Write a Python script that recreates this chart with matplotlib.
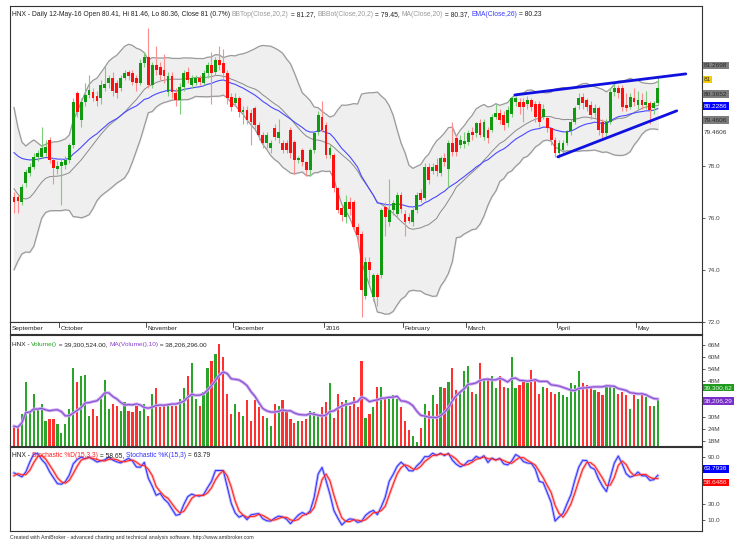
import matplotlib
matplotlib.use('Agg')
import matplotlib.pyplot as plt
import numpy as np
import pandas as pd
from matplotlib import font_manager

names = {f.name for f in font_manager.fontManager.ttflist}
FONT = 'Liberation Sans Narrow' if 'Liberation Sans Narrow' in names else 'Liberation Sans'
plt.rcParams['font.family'] = [FONT, 'DejaVu Sans']

# ---------------- data ----------------
opens = [76.82, 76.80, 76.63, 77.33, 77.72, 77.97, 78.36, 78.36, 78.50, 79.00,
         78.23, 77.90, 78.00, 78.05, 78.23, 78.81, 80.80, 79.77, 80.47, 80.73,
         80.85, 80.70, 80.60, 81.00, 81.18, 81.37, 81.18, 80.99, 81.37, 81.60,
         81.56, 81.37, 81.20, 81.95, 82.20, 81.10, 81.88, 81.80, 81.69, 80.86,
         81.44, 80.80, 80.54, 81.05, 81.63, 81.12, 81.20, 81.40, 81.20, 81.56,
         81.88, 81.60, 82.08, 81.95, 81.56, 80.67, 80.41, 80.60, 80.09, 80.15,
         80.03, 80.22, 79.58, 79.19, 78.87, 78.68, 79.45, 79.06, 78.87, 78.87,
         79.38, 78.94, 78.23, 78.62, 78.17, 77.85, 78.62, 79.30, 79.90, 79.58,
         78.42, 78.42, 77.14, 76.37, 76.05, 76.63, 76.63, 75.67, 75.40, 73.00,
         74.32, 72.97, 73.80, 73.80, 76.43, 75.86, 76.30, 76.17, 76.90, 76.17,
         76.05, 75.86, 76.30, 76.96, 76.76, 77.97, 77.80, 78.04, 77.72, 78.30,
         77.90, 78.87, 79.07, 78.80, 78.85, 78.94, 79.32, 79.26, 79.64, 79.10,
         79.39, 79.39, 79.90, 80.03, 79.96, 79.64, 80.00, 80.47, 80.47, 80.47,
         80.40, 80.53, 80.40, 80.40, 79.90, 79.83, 79.45, 79.00, 78.49, 78.62,
         78.88, 79.33, 79.70, 80.34, 80.67, 80.53, 80.35, 80.03, 80.22, 79.70,
         79.27, 79.70, 80.86, 80.99, 80.99, 80.35, 80.28, 80.60, 80.35, 80.53,
         80.35, 80.41, 80.22, 80.41]
highs = [77.00, 76.90, 77.30, 77.90, 78.10, 78.50, 78.60, 79.50, 79.00, 79.10,
         78.30, 78.20, 78.30, 78.40, 78.90, 80.60, 80.90, 80.60, 81.20, 81.50,
         81.00, 80.90, 81.30, 81.90, 81.50, 81.60, 81.30, 81.50, 81.70, 81.70,
         81.70, 81.50, 82.10, 82.40, 83.30, 82.00, 82.60, 82.00, 82.30, 81.60,
         81.60, 81.00, 81.20, 81.70, 81.80, 81.50, 81.50, 81.50, 81.70, 82.00,
         82.40, 82.20, 82.60, 82.50, 81.70, 80.80, 80.80, 80.70, 80.30, 80.30,
         80.20, 80.30, 79.70, 79.30, 79.30, 79.00, 79.60, 79.80, 79.00, 79.00,
         79.50, 79.00, 78.40, 78.70, 78.20, 78.70, 79.30, 80.10, 80.50, 79.70,
         78.80, 78.50, 77.20, 76.50, 76.90, 76.80, 76.70, 75.80, 75.50, 74.50,
         74.50, 73.90, 73.90, 76.40, 76.60, 77.50, 76.70, 77.00, 77.00, 76.30,
         76.20, 76.40, 77.00, 77.10, 78.10, 78.10, 78.10, 78.30, 78.40, 78.50,
         79.00, 79.70, 79.20, 79.20, 79.30, 79.40, 79.50, 79.70, 79.80, 79.80,
         79.50, 80.00, 80.40, 80.20, 80.10, 80.30, 80.70, 80.70, 80.60, 80.60,
         80.70, 80.60, 80.50, 80.50, 80.40, 79.90, 79.50, 79.10, 79.00, 79.00,
         79.40, 79.80, 80.30, 80.80, 80.80, 80.60, 80.50, 80.40, 80.30, 79.80,
         79.80, 81.00, 81.20, 81.10, 81.10, 80.80, 80.80, 81.00, 80.90, 80.80,
         80.90, 80.50, 80.50, 81.46]
lows = [76.20, 76.20, 76.50, 77.20, 77.60, 77.90, 78.20, 78.30, 78.40, 78.10,
        77.30, 77.70, 76.50, 77.90, 78.10, 78.70, 79.90, 79.50, 80.30, 80.60,
        80.50, 80.30, 80.40, 80.90, 81.00, 80.70, 80.60, 80.90, 81.30, 81.30,
        81.10, 80.90, 81.10, 81.80, 81.00, 81.00, 81.50, 81.30, 81.20, 80.70,
        80.60, 80.30, 80.00, 80.90, 81.20, 81.00, 81.10, 81.10, 81.10, 81.40,
        80.40, 81.50, 81.70, 81.40, 80.40, 80.10, 80.30, 79.90, 79.60, 79.60,
        78.80, 79.40, 79.00, 78.70, 78.70, 78.50, 79.00, 78.90, 78.50, 78.50,
        78.30, 77.70, 78.10, 78.00, 77.60, 77.60, 78.50, 79.20, 79.30, 78.30,
        78.30, 77.00, 76.20, 75.90, 75.80, 76.10, 75.50, 75.00, 72.20, 72.90,
        73.50, 72.80, 72.60, 73.70, 75.30, 75.70, 76.10, 76.00, 76.20, 75.30,
        75.80, 75.70, 76.20, 76.60, 76.70, 77.30, 77.70, 77.60, 77.60, 78.00,
        77.20, 78.40, 78.40, 78.70, 78.70, 78.80, 79.00, 79.10, 79.10, 79.00,
        78.90, 79.30, 79.80, 79.60, 79.40, 79.50, 79.90, 80.30, 80.00, 79.70,
        80.20, 80.10, 79.70, 79.50, 79.80, 79.30, 78.80, 78.35, 78.30, 78.50,
        78.80, 79.20, 79.60, 80.20, 80.20, 80.10, 79.80, 79.90, 79.20, 79.00,
        79.10, 79.60, 80.70, 80.60, 80.10, 80.10, 80.20, 80.30, 80.20, 80.20,
        80.20, 79.60, 80.00, 80.36]
closes = [76.63, 76.65, 77.20, 77.78, 77.97, 78.36, 78.49, 78.68, 78.74, 78.23,
          77.91, 78.00, 78.17, 78.23, 78.81, 80.47, 80.09, 80.47, 80.73, 80.92,
          80.60, 80.50, 81.12, 81.15, 81.37, 80.90, 80.80, 81.37, 81.56, 81.45,
          81.24, 81.18, 81.95, 82.20, 81.10, 81.88, 81.69, 81.50, 81.44, 81.44,
          80.86, 80.54, 81.05, 81.56, 81.31, 81.37, 81.37, 81.24, 81.56, 81.88,
          81.56, 82.08, 81.88, 81.56, 80.60, 80.28, 80.60, 80.09, 80.15, 79.77,
          79.70, 79.58, 79.19, 78.87, 79.19, 78.87, 79.13, 79.32, 78.62, 78.62,
          78.49, 78.23, 78.30, 78.17, 77.85, 78.62, 79.26, 79.96, 79.40, 78.42,
          78.68, 77.14, 76.31, 76.12, 76.63, 76.35, 75.67, 75.35, 73.23, 74.32,
          74.00, 73.80, 72.97, 76.30, 76.05, 76.30, 76.56, 76.90, 76.36, 75.86,
          75.90, 76.30, 76.90, 76.70, 77.97, 77.46, 77.97, 77.80, 78.30, 78.17,
          78.87, 78.55, 78.55, 79.00, 78.95, 79.26, 79.20, 79.64, 79.20, 79.70,
          79.07, 79.90, 80.03, 79.77, 79.58, 80.15, 80.60, 80.60, 80.27, 80.28,
          80.53, 80.28, 79.90, 79.70, 80.20, 79.45, 79.00, 78.49, 78.88, 78.88,
          79.33, 79.70, 80.22, 80.60, 80.41, 80.28, 79.96, 80.22, 79.38, 79.27,
          79.70, 80.86, 80.99, 80.80, 80.28, 80.22, 80.67, 80.47, 80.53, 80.35,
          80.47, 80.15, 80.41, 81.00]
volumes_m = [25.4, 24.5, 31.4, 47.7, 33.1, 41.7, 34.0, 36.6, 28.0, 28.8,
             28.8, 26.3, 22.0, 26.3, 34.0, 54.6, 47.7, 50.3, 51.2, 30.6,
             34.0, 30.6, 39.1, 48.6, 34.0, 36.6, 35.7, 33.1, 37.4, 33.1,
             32.3, 35.7, 33.1, 36.6, 30.6, 41.7, 44.3, 34.9, 36.6, 35.7,
             35.7, 35.7, 39.1, 44.3, 50.3, 57.2, 39.1, 35.7, 42.6, 54.6,
             58.0, 61.5, 66.6, 59.8, 41.7, 31.4, 36.6, 32.3, 30.6, 38.3,
             28.0, 38.3, 34.9, 30.6, 29.7, 25.4, 36.6, 35.7, 38.3, 33.1,
             28.8, 27.1, 28.0, 28.0, 28.8, 33.1, 32.3, 31.4, 34.9, 37.4,
             46.9, 29.7, 41.7, 37.4, 38.3, 35.7, 40.0, 34.9, 58.0, 29.7,
             31.4, 34.9, 45.2, 45.2, 40.0, 39.1, 40.9, 39.1, 34.9, 28.0,
             23.7, 20.3, 17.7, 24.5, 36.6, 33.1, 40.9, 36.6, 45.2, 44.3,
             47.7, 54.6, 43.4, 42.6, 52.9, 55.5, 42.6, 41.7, 57.2, 49.5,
             49.5, 50.3, 44.3, 50.3, 45.2, 44.3, 59.8, 44.3, 46.0, 47.7,
             46.9, 53.7, 48.6, 41.7, 45.2, 44.3, 42.6, 41.7, 42.6, 40.9,
             40.0, 46.9, 46.0, 52.9, 46.9, 46.0, 45.2, 43.4, 42.6, 40.9,
             45.2, 46.0, 44.3, 41.7, 42.6, 40.9, 34.0, 40.9, 39.1, 41.7,
             40.0, 35.7, 35.7, 39.3]
# closes before the first shown bar (seed the 20/26-bar indicators)
pre_closes = [84.5, 84.0, 83.6, 83.0, 82.4, 81.8, 81.0, 80.0, 78.6, 76.8,
              75.0, 74.2, 74.6, 75.8, 76.9, 77.6, 77.9, 77.7, 77.3, 77.6,
              77.2, 76.9, 77.1, 76.8, 76.9]
month_labels = ['September', 'October', 'November', 'December', '2016',
                'February', 'March', 'April', 'May']
month_starts = [0, 12, 34, 56, 79, 99, 115, 138, 158]
trend_upper_x = [126.8, 170.1]
trend_upper_y = [80.73, 81.54]
trend_lower_x = [137.7, 167.8]
trend_lower_y = [78.35, 80.12]
price_ticks = [72, 74, 76, 78]
volume_ticks = [18, 24, 30, 48, 54, 60, 66]
stoch_ticks = [10, 30, 90]

# ---------------- indicators ----------------
n = len(closes)
npre = len(pre_closes)
allc = pd.Series(pre_closes + closes)
allh = pd.Series(pre_closes + highs)
alll = pd.Series(pre_closes + lows)
ma20 = allc.rolling(20, min_periods=1).mean()
sd20 = allc.rolling(20, min_periods=1).std(ddof=0)
bbt = (ma20 + 2 * sd20).values[npre:]
bbb = (ma20 - 2 * sd20).values[npre:]
ma20v = ma20.values[npre:]
ema26 = allc.ewm(span=26, adjust=False).mean().values[npre:]
llv = alll.rolling(15, min_periods=1).min()
hhv = allh.rolling(15, min_periods=1).max()
num = (allc - llv).rolling(3, min_periods=1).sum()
den = (hhv - llv).rolling(3, min_periods=1).sum()
stk = (100 * num / den)
std_ = stk.rolling(3, min_periods=1).mean()
stk = stk.values[npre:]
std_ = std_.values[npre:]
vol = np.array(volumes_m)
vma = pd.Series(vol).rolling(10, min_periods=1).mean().values

x = np.arange(n)
o = np.array(opens); c = np.array(closes); h = np.array(highs); l = np.array(lows)
up = c >= o

# ---------------- layout ----------------
W, H = 746, 541
fig = plt.figure(figsize=(W / 100, H / 100), dpi=100)
fig.patch.set_facecolor('white')

def ax_px(left, top, right, bottom):
    return fig.add_axes([left / W, 1 - bottom / H, (right - left) / W, (bottom - top) / H])

XMIN, XMAX = -1.01, 174.2
FS = 4.65
axm = ax_px(10, 6, 702, 322)
axd = ax_px(10, 322, 702, 334)
axv = ax_px(10, 335, 702, 446)
axs = ax_px(10, 447, 702, 531)

for a in (axm, axd, axv, axs):
    a.set_xlim(XMIN, XMAX)
    a.set_xticks([])
    for s in a.spines.values():
        s.set_linewidth(0.8)
        s.set_color('#333333')

# main price panel
axm.set_ylim(72.0, 84.15)
axm.fill_between(x, bbb, bbt, color='#efefef', zorder=1)
axm.plot(x, bbt, color='#9a9a9a', lw=0.9, zorder=2)
axm.plot(x, bbb, color='#9a9a9a', lw=0.9, zorder=2)
axm.plot(x, ma20v, color='#8a8a8a', lw=0.7, zorder=2)
axm.plot(x, ema26, color='#4a4aff', lw=0.8, zorder=3)
wick_col = ['#7ccc7c' if u else '#ff8c8c' for u in up]
body_col = ['#0f9a0f' if u else '#ff1010' for u in up]
axm.vlines(x, l, h, colors=wick_col, lw=0.8, zorder=4)
body_h = np.maximum(np.abs(c - o), 0.05)
axm.bar(x, body_h, bottom=np.minimum(o, c), width=0.72, color=body_col, zorder=5, linewidth=0)
axm.plot(trend_upper_x, trend_upper_y, color='#1010e0', lw=2.0, zorder=6, solid_capstyle='round')
axm.plot(trend_lower_x, trend_lower_y, color='#1010e0', lw=2.0, zorder=6, solid_capstyle='round')

for a, ticks, fmt in ((axm, price_ticks, '{:.1f}'), (axv, volume_ticks, '{:d}M'), (axs, stoch_ticks, '{:.1f}')):
    a.yaxis.tick_right()
    a.set_yticks(ticks)
    a.set_yticklabels([fmt.format(t) for t in ticks])
    a.tick_params(axis='y', length=2, width=0.6, pad=2, labelsize=FS, colors='#444444')

# date strip
axd.set_yticks([])
axd.set_ylim(0, 1)
for lab, ms in zip(month_labels, month_starts):
    if ms > 0:
        axd.plot([ms - 0.5, ms - 0.5], [0.55, 1.0], color='#333333', lw=0.6)
    axd.text(ms - 0.2 if ms > 0 else -0.5, 0.45, lab, fontsize=FS, va='center', ha='left', color='#222222')

# volume panel
axv.set_ylim(15.5, 71)
vcol = ['#2aa52a' if u else '#ff3030' for u in up]
axv.bar(x, vol, width=0.55, color=vcol, linewidth=0, zorder=2)
axv.plot(x, vma, color='#c9a8f0', lw=2.2, zorder=3)
axv.plot(x, vma, color='#8a4fd0', lw=0.8, zorder=4)

# stochastic panel
axs.set_ylim(-3.9, 102.4)
axs.plot(x, stk, color='#b8b8ff', lw=2.0, zorder=2)
axs.plot(x, std_, color='#ffb0b0', lw=2.0, zorder=2)
axs.plot(x, stk, color='#3030ff', lw=0.7, zorder=3)
axs.plot(x, std_, color='#ff2020', lw=0.7, zorder=4)

# ---------------- titles ----------------
def chain(ax, x_px, y_px, parts, size=FS):
    t = ax.annotate(parts[0][0], xy=(x_px / W, 1 - y_px / H), xycoords='figure fraction',
                    color=parts[0][1], fontsize=size, ha='left', va='bottom', annotation_clip=False)
    for s, col in parts[1:]:
        t = ax.annotate(s, xy=(1, 0), xycoords=t, color=col, fontsize=size,
                        ha='left', va='bottom', annotation_clip=False)

K = '#222222'
G = '#9a9a9a'
chain(axm, 12, 18, [
    ('HNX - Daily 12-May-16 Open 80.41, Hi 81.46, Lo 80.36, Close 81 (0.7%) ', K),
    ('BBTop(Close,20,2)', G), (' = 81.27, ', K),
    ('BBBot(Close,20,2)', G), (' = 79.45, ', K),
    ('MA(Close,20)', G), (' = 80.37, ', K),
    ('EMA(Close,26)', '#3a3aff'), (' = 80.23', K)], size=4.85)
chain(axv, 12, 347, [
    ('HNX - ', K), ('Volume()', '#22a022'), (' = 39,300,524.00, ', K),
    ('MA(Volume(),10)', '#8a3fd0'), (' = 38,206,296.00', K)])
chain(axs, 12, 459, [
    ('HNX - ', K), ('Stochastic %D(15,3,3)', '#ff2020'), (' = 58.65, ', K),
    ('Stochastic %K(15,3)', '#3030ff'), (' = 63.79', K)], size=4.75)
fig.text(10 / W, 1 - 538 / H,
         'Created with AmiBroker - advanced charting and technical analysis software. http://www.amibroker.com',
         fontsize=3.8, color='#333333', ha='left', va='center')

# ---------------- value boxes on the right ----------------
def vbox(y_px, txt, fc, tc):
    fig.text(704 / W, 1 - y_px / H, txt, fontsize=FS, color=tc, ha='left', va='center', zorder=10,
             bbox=dict(boxstyle='square,pad=0.18', fc=fc, ec='none'))

vbox(65.7, '81.2698', '#7d7d7d', '#2a2a2a')
vbox(79.5, '81', '#f2cc00', '#333333')
vbox(94, '80.3652', '#7d7d7d', '#2a2a2a')
vbox(106, '80.2286', '#0000ff', '#ffffff')
vbox(120, '79.4606', '#7d7d7d', '#2a2a2a')
vbox(132.5, '79.4606', '#ffffff', '#333333')
vbox(387.5, '39,300,62', '#1f9a1f', '#e8ffe8')
vbox(401, '38,206,29', '#7a30c8', '#f0e8ff')
vbox(469, '63.7936', '#0000ff', '#ffffff')
vbox(482.5, '58.6486', '#ff0000', '#ffdddd')

fig.savefig('out.png', dpi=100, facecolor='white')
